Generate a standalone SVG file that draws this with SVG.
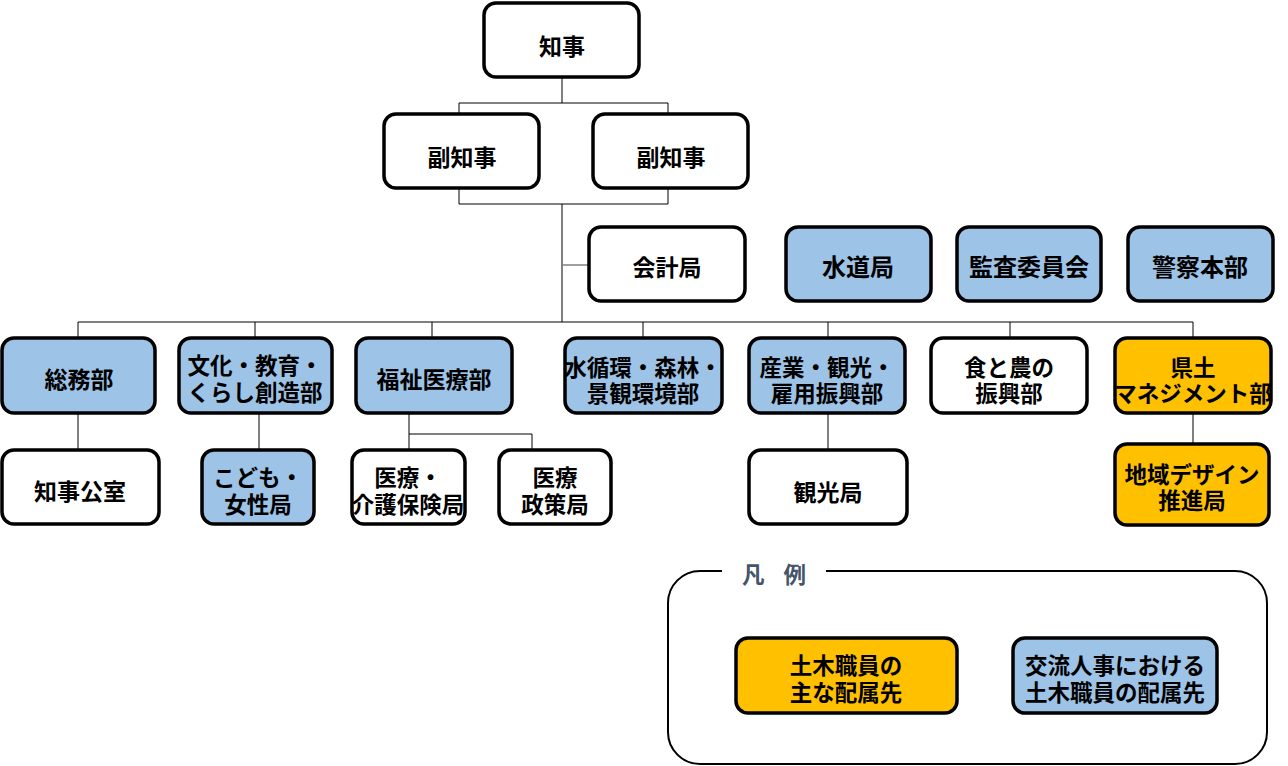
<svg xmlns="http://www.w3.org/2000/svg" width="1288" height="766" viewBox="0 0 1288 766">
<style>
.b{stroke:#000;stroke-width:3.5}
.w{fill:#fff}
.bl{fill:#9DC3E6}
.o{fill:#FFC000}
text{font-family:"Noto Sans CJK JP","Noto Sans",sans-serif;font-weight:bold;font-size:22.5px;fill:#000;text-anchor:middle;dominant-baseline:central}
.s{font-size:23px}
.xl{font-size:24px}
.c line,.c polyline{stroke:#000;stroke-width:1;fill:none}
</style>
<rect width="1288" height="766" fill="#fff"/>
<g class="c" id="connectors">
<line x1="562" y1="77" x2="562" y2="103"/>
<polyline points="459,114 459,103 668,103 668,114"/>
<polyline points="459,189 459,204 668,204 668,189"/>
<line x1="562" y1="204" x2="562" y2="322"/>
<line x1="562" y1="265" x2="589" y2="265" style="stroke:#7f7f7f;stroke-width:1.5"/>
<line x1="78" y1="322" x2="1193" y2="322"/>
<line x1="78" y1="322" x2="78" y2="338"/>
<line x1="255" y1="322" x2="255" y2="338"/>
<line x1="432" y1="322" x2="432" y2="338"/>
<line x1="643" y1="322" x2="643" y2="338"/>
<line x1="828" y1="322" x2="828" y2="338"/>
<line x1="1010" y1="322" x2="1010" y2="338"/>
<line x1="1193" y1="322" x2="1193" y2="338"/>
<line x1="78" y1="413" x2="78" y2="450"/>
<line x1="259" y1="413" x2="259" y2="450"/>
<line x1="409" y1="413" x2="409" y2="450"/>
<polyline points="409,434 532,434 532,450"/>
<line x1="828" y1="413" x2="828" y2="450"/>
<line x1="1193" y1="413" x2="1193" y2="444"/>
</g>
<g id="chiji"><rect class="b w" x="484" y="3" width="155" height="74" rx="12"/><text class="s" x="562" y="45">知事</text></g>
<g id="fuku1"><rect class="b w" x="384" y="114" width="155" height="74" rx="12"/><text class="s" x="462" y="156">副知事</text></g>
<g id="fuku2"><rect class="b w" x="593" y="114" width="155" height="74" rx="12"/><text class="s" x="671" y="156">副知事</text></g>
<g id="kaikei"><rect class="b w" x="589" y="227" width="156" height="74" rx="12"/><text class="s" x="667" y="266">会計局</text></g>
<g id="suido"><rect class="b bl" x="786" y="227" width="145" height="74" rx="12"/><text class="xl" x="858" y="265">水道局</text></g>
<g id="kansa"><rect class="b bl" x="957" y="227" width="144" height="74" rx="12"/><text class="xl" x="1029" y="265">監査委員会</text></g>
<g id="keisatsu"><rect class="b bl" x="1128" y="227" width="145" height="74" rx="12"/><text class="xl" x="1200" y="265">警察本部</text></g>
<g id="somu"><rect class="b bl" x="2" y="338" width="153" height="75" rx="12"/><text class="s" x="79" y="378">総務部</text></g>
<g id="bunka"><rect class="b bl" x="179" y="338" width="153" height="75" rx="12"/><text><tspan x="255" y="364">文化・教育・</tspan><tspan x="255" y="391">くらし創造部</tspan></text></g>
<g id="fukushi"><rect class="b bl" x="356" y="338" width="156" height="75" rx="12"/><text class="s" x="434" y="378">福祉医療部</text></g>
<g id="mizu"><rect class="b bl" x="565" y="338" width="157" height="75" rx="12"/><text><tspan x="643" y="366">水循環・森林・</tspan><tspan x="643" y="392">景観環境部</tspan></text></g>
<g id="sangyo"><rect class="b bl" x="749" y="338" width="156" height="75" rx="12"/><text><tspan x="827" y="366">産業・観光・</tspan><tspan x="827" y="392">雇用振興部</tspan></text></g>
<g id="shoku"><rect class="b w" x="931" y="338" width="156" height="75" rx="12"/><text><tspan x="1009" y="366">食と農の</tspan><tspan x="1009" y="392">振興部</tspan></text></g>
<g id="kendo"><rect class="b o" x="1115" y="338" width="156" height="75" rx="12"/><text><tspan x="1193" y="366">県土</tspan><tspan x="1193" y="392">マネジメント部</tspan></text></g>
<g id="chijikoshitsu"><rect class="b w" x="2" y="450" width="157" height="74" rx="12"/><text class="s" x="80" y="490">知事公室</text></g>
<g id="kodomo"><rect class="b bl" x="202" y="450" width="112" height="74" rx="12"/><text><tspan x="258" y="476">こども・</tspan><tspan x="258" y="503">女性局</tspan></text></g>
<g id="iryokaigo"><rect class="b w" x="352" y="450" width="113" height="74" rx="12"/><text><tspan x="408" y="476">医療・</tspan><tspan x="408" y="503">介護保険局</tspan></text></g>
<g id="iryoseisaku"><rect class="b w" x="499" y="450" width="112" height="74" rx="12"/><text><tspan x="555" y="476">医療</tspan><tspan x="555" y="503">政策局</tspan></text></g>
<g id="kanko"><rect class="b w" x="749" y="450" width="158" height="74" rx="12"/><text class="s" x="828" y="491">観光局</text></g>
<g id="chiiki"><rect class="b o" x="1115" y="444" width="154" height="81" rx="12"/><text><tspan x="1192" y="473">地域デザイン</tspan><tspan x="1192" y="499">推進局</tspan></text></g>
<g id="legend">
<rect x="668" y="571" width="599" height="193" rx="32" fill="#fff" stroke="#000" stroke-width="2"/>
<rect x="722" y="564" width="104" height="14" fill="#fff"/>
<text x="742" y="573" style="text-anchor:start;fill:#44546A;letter-spacing:7px">凡 例</text>
<g id="legend-main"><rect class="b o" x="736" y="638" width="221" height="75" rx="12"/><text><tspan x="846" y="664">土木職員の</tspan><tspan x="846" y="691">主な配属先</tspan></text></g>
<g id="legend-exchange"><rect class="b bl" x="1013" y="638" width="204" height="75" rx="12"/><text><tspan x="1115" y="664">交流人事における</tspan><tspan x="1115" y="691">土木職員の配属先</tspan></text></g>
</g>
</svg>
